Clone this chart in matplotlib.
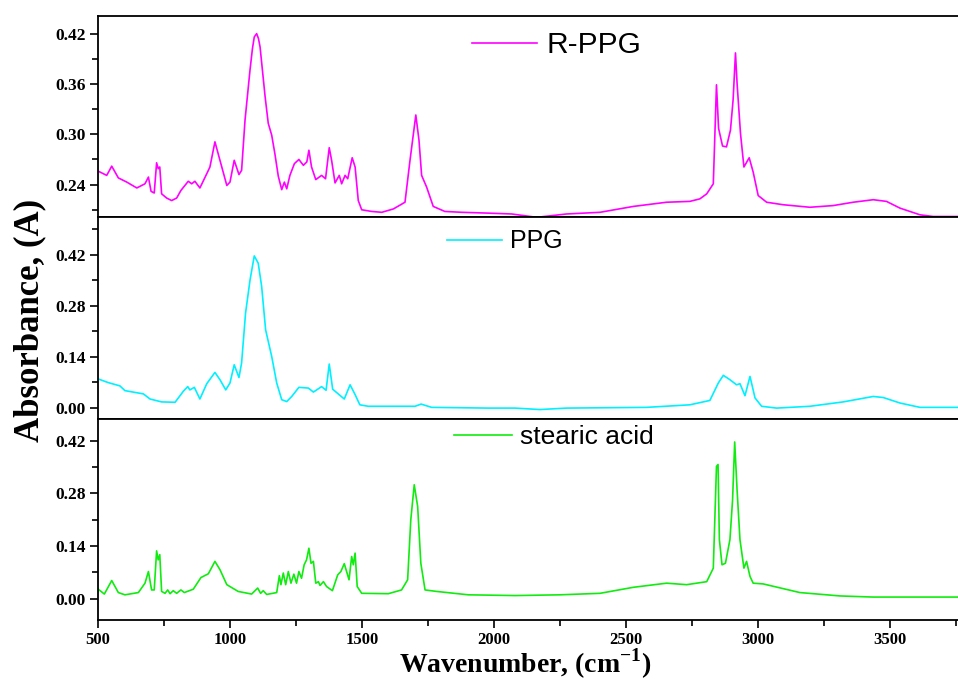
import numpy as np
import matplotlib
matplotlib.use("Agg")
from matplotlib import pyplot as plt
from matplotlib.ticker import MultipleLocator

plt.rcParams['mathtext.fontset'] = 'custom'
plt.rcParams['mathtext.rm'] = 'Liberation Serif:bold'
plt.rcParams['mathtext.bf'] = 'Liberation Serif:bold'

# R-PPG spectrum
rppg_wn = [501, 533, 552, 577, 609, 647, 678, 691, 701, 713, 722, 728, 734, 741, 760,
           779, 798, 814, 842, 855, 867, 886, 912, 924, 943, 962, 988, 1000, 1016, 1034,
           1044, 1057, 1076, 1085, 1092, 1101, 1108, 1114, 1133, 1145, 1158, 1170, 1183,
           1196, 1206, 1215, 1227, 1244, 1261, 1278, 1291, 1299, 1309, 1325, 1347, 1362,
           1376, 1385, 1398, 1414, 1423, 1436, 1446, 1463, 1474, 1486, 1499, 1537, 1575,
           1619, 1663, 1682, 1704, 1716, 1726, 1745, 1770, 1814, 1878, 1979, 2067, 2162,
           2275, 2402, 2528, 2654, 2742, 2780, 2806, 2831, 2843, 2851, 2866, 2881, 2896,
           2906, 2915, 2921, 2934, 2947, 2967, 2982, 3001, 3033, 3096, 3197, 3285, 3361,
           3437, 3487, 3538, 3614, 3664, 3758]
rppg_abs = [0.256, 0.251, 0.262, 0.248, 0.243, 0.236, 0.241, 0.249, 0.232, 0.230, 0.266,
            0.259, 0.261, 0.229, 0.224, 0.221, 0.224, 0.233, 0.244, 0.241, 0.244, 0.236,
            0.253, 0.261, 0.291, 0.269, 0.239, 0.243, 0.269, 0.252, 0.257, 0.317, 0.377,
            0.402, 0.416, 0.420, 0.414, 0.404, 0.345, 0.313, 0.299, 0.277, 0.250, 0.234,
            0.243, 0.235, 0.251, 0.265, 0.270, 0.263, 0.267, 0.281, 0.261, 0.246, 0.251,
            0.247, 0.284, 0.269, 0.242, 0.251, 0.241, 0.251, 0.247, 0.272, 0.261, 0.221,
            0.210, 0.208, 0.207, 0.211, 0.219, 0.269, 0.323, 0.293, 0.251, 0.237, 0.214,
            0.208, 0.207, 0.206, 0.205, 0.201, 0.205, 0.207, 0.214, 0.219, 0.220, 0.223,
            0.229, 0.241, 0.359, 0.307, 0.286, 0.285, 0.305, 0.341, 0.397, 0.361, 0.301,
            0.261, 0.272, 0.255, 0.227, 0.219, 0.216, 0.213, 0.215, 0.219, 0.222, 0.220,
            0.212, 0.204, 0.202, 0.202]

# PPG spectrum
ppg_wn = [501, 539, 583, 602, 672, 697, 741, 792, 823, 840, 848, 865, 886, 912, 943, 962,
          984, 1000, 1016, 1034, 1044, 1059, 1076, 1092, 1107, 1120, 1135, 1158, 1177, 1196,
          1215, 1234, 1261, 1297, 1316, 1347, 1364, 1376, 1389, 1410, 1433, 1455, 1474, 1492,
          1524, 1701, 1724, 1764, 1979, 2080, 2174, 2275, 2578, 2742, 2818, 2850, 2869, 2894,
          2919, 2932, 2951, 2970, 2989, 3014, 3071, 3197, 3323, 3437, 3475, 3538, 3614, 3758]
ppg_abs = [0.079, 0.069, 0.060, 0.047, 0.038, 0.024, 0.016, 0.015, 0.045, 0.058, 0.049,
           0.056, 0.024, 0.066, 0.097, 0.077, 0.049, 0.068, 0.118, 0.083, 0.123, 0.260,
           0.351, 0.417, 0.397, 0.333, 0.214, 0.141, 0.068, 0.022, 0.017, 0.031, 0.056,
           0.054, 0.043, 0.058, 0.048, 0.120, 0.051, 0.038, 0.024, 0.063, 0.036, 0.008,
           0.004, 0.004, 0.010, 0.001, -0.001, -0.001, -0.005, -0.001, 0.001, 0.008, 0.020,
           0.068, 0.089, 0.077, 0.063, 0.066, 0.033, 0.086, 0.027, 0.004, -0.001, 0.004,
           0.016, 0.031, 0.028, 0.013, 0.001, 0.001]

# stearic acid spectrum
sa_wn = [501, 524, 552, 577, 602, 653, 678, 691, 703, 713, 722, 728, 734, 741, 754, 764,
         773, 785, 798, 814, 827, 861, 890, 918, 943, 962, 988, 1031, 1082, 1105, 1116,
         1126, 1139, 1177, 1187, 1193, 1202, 1211, 1221, 1231, 1242, 1252, 1261, 1271,
         1281, 1290, 1299, 1307, 1316, 1325, 1335, 1341, 1354, 1366, 1388, 1408, 1420,
         1433, 1451, 1461, 1467, 1474, 1482, 1499, 1600, 1650, 1673, 1685, 1698, 1711,
         1723, 1739, 1783, 1903, 2080, 2250, 2402, 2528, 2654, 2730, 2806, 2831, 2843,
         2849, 2854, 2864, 2877, 2894, 2904, 2912, 2921, 2932, 2947, 2957, 2970, 2982,
         3020, 3159, 3311, 3437, 3758]
sa_abs = [0.025, 0.012, 0.048, 0.016, 0.010, 0.016, 0.041, 0.072, 0.023, 0.023, 0.127,
          0.103, 0.117, 0.019, 0.014, 0.023, 0.013, 0.021, 0.014, 0.023, 0.016, 0.025,
          0.056, 0.066, 0.099, 0.077, 0.037, 0.019, 0.012, 0.028, 0.014, 0.021, 0.011,
          0.016, 0.061, 0.037, 0.068, 0.037, 0.072, 0.041, 0.065, 0.041, 0.072, 0.054,
          0.090, 0.103, 0.134, 0.094, 0.099, 0.041, 0.045, 0.035, 0.045, 0.032, 0.021,
          0.063, 0.072, 0.093, 0.050, 0.112, 0.090, 0.121, 0.032, 0.014, 0.013, 0.023,
          0.050, 0.210, 0.303, 0.245, 0.094, 0.023, 0.019, 0.010, 0.008, 0.010, 0.014,
          0.030, 0.041, 0.037, 0.045, 0.081, 0.352, 0.357, 0.157, 0.090, 0.094, 0.157,
          0.263, 0.417, 0.290, 0.157, 0.081, 0.099, 0.059, 0.041, 0.039, 0.016, 0.007,
          0.004, 0.004]

labels = ['R-PPG', 'PPG', 'stearic acid']
colors = ['#FF00FF', '#00F0FF', '#10EC10']

fig, axes = plt.subplots(3, 1, figsize=(9.58, 6.81), dpi=100, sharex=True)
fig.subplots_adjust(left=0.1023, right=1.0, top=0.9765, bottom=0.0896, hspace=0)

series = [(rppg_wn, rppg_abs), (ppg_wn, ppg_abs), (sa_wn, sa_abs)]
ylims = [(0.201, 0.441), (-0.030, 0.523), (-0.057, 0.479)]
yticks = [[0.24, 0.30, 0.36, 0.42], [0.00, 0.14, 0.28, 0.42], [0.00, 0.14, 0.28, 0.42]]
yminor = [0.03, 0.07, 0.07]
leg_pos = [(0.533, 0.856), (0.473, 0.881), (0.530, 0.909)]
leg_size = [21.5, 18, 19]

for i, ax in enumerate(axes):
    wn, ab = series[i]
    line, = ax.plot(wn, ab, color=colors[i], lw=1.2)
    ax.set_xlim(500, 3758)
    ax.set_ylim(*ylims[i])
    ax.set_yticks(yticks[i])
    ax.yaxis.set_minor_locator(MultipleLocator(yminor[i]))
    ax.set_yticklabels(['%.2f' % v for v in yticks[i]])
    ax.spines['right'].set_visible(False)
    for s in ['left', 'top', 'bottom']:
        ax.spines[s].set_linewidth(1.3)
    ax.tick_params(axis='y', which='major', direction='out', length=6, width=1.2, pad=3)
    ax.tick_params(axis='y', which='minor', direction='out', length=4, width=1.2)
    for t in ax.get_yticklabels():
        t.set_fontfamily('Liberation Serif')
        t.set_fontweight('bold')
        t.set_fontsize(12.5)
    ax.legend([line], [labels[i]], loc='center', bbox_to_anchor=leg_pos[i],
              frameon=False, handlelength=2.2, handletextpad=0.3,
              prop={'family': 'Liberation Sans', 'size': leg_size[i]})
    if i < 2:
        ax.tick_params(axis='x', which='both', bottom=False, labelbottom=False)

ax = axes[2]
ax.xaxis.set_major_locator(MultipleLocator(500))
ax.xaxis.set_minor_locator(MultipleLocator(250))
ax.tick_params(axis='x', which='major', direction='out', length=6, width=1.2, pad=3)
ax.tick_params(axis='x', which='minor', direction='out', length=4, width=1.2)
for t in ax.get_xticklabels():
    t.set_fontfamily('Liberation Serif')
    t.set_fontweight('bold')
    t.set_fontsize(12)

fig.text(0.031, 0.53, 'Absorbance, (A)', rotation=90, ha='center', va='center',
         fontfamily='Liberation Serif', fontweight='bold', fontsize=25)
fig.text(0.548, 0.012, r'Wavenumber, (cm$^{\mathbf{-1}}$)', ha='center', va='baseline',
         fontfamily='Liberation Serif', fontweight='bold', fontsize=20)

plt.savefig('out.png', dpi=100)
